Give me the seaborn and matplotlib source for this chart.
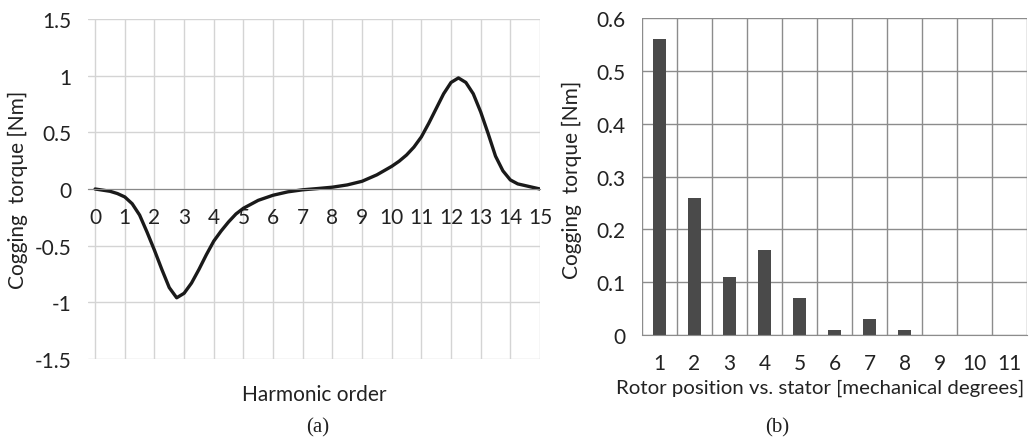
import numpy as np
import pandas as pd
import matplotlib
matplotlib.use("Agg")
import matplotlib.pyplot as plt
import seaborn as sns

# (a) cogging torque vs harmonic order
harmonic = [0, 0.5, 0.75, 1, 1.25, 1.5, 1.75, 2, 2.25, 2.5, 2.75, 3, 3.25, 3.5, 3.75,
            4, 4.25, 4.5, 4.75, 5, 5.5, 6, 6.5, 7, 7.5, 8, 8.5, 9, 9.5, 10, 10.25,
            10.5, 10.75, 11, 11.25, 11.5, 11.75, 12, 12.25, 12.5, 12.75, 13, 13.25,
            13.5, 13.75, 14, 14.25, 14.5, 14.75, 15]
torque = [0, -0.02, -0.04, -0.07, -0.13, -0.23, -0.38, -0.54, -0.71, -0.87, -0.96,
          -0.92, -0.83, -0.71, -0.58, -0.46, -0.37, -0.29, -0.22, -0.17, -0.10,
          -0.055, -0.025, -0.007, 0.004, 0.016, 0.036, 0.068, 0.125, 0.20, 0.245,
          0.30, 0.37, 0.46, 0.58, 0.71, 0.84, 0.94, 0.98, 0.94, 0.84, 0.68, 0.49,
          0.29, 0.16, 0.08, 0.045, 0.03, 0.015, 0]

# (b) cogging torque per rotor position
positions = ["1", "2", "3", "4", "5", "6", "7", "8", "9", "10", "11"]
bar_torque = [0.56, 0.26, 0.11, 0.16, 0.07, 0.01, 0.03, 0.01, 0, 0, 0]

sns.set_style("white")
plt.rcParams["font.family"] = ["Lato", "DejaVu Sans"]
FS = 15

fig = plt.figure(figsize=(10.30, 4.39), dpi=100)

# ---- left chart
ax1 = fig.add_axes([88 / 1030, 79 / 439, 452 / 1030, 340 / 439])
df_a = pd.DataFrame({"x": harmonic, "y": torque})
sns.lineplot(data=df_a, x="x", y="y", ax=ax1, color="#1a1a1a", linewidth=2.4)
ax1.set_xlim(-0.24, 15)
ax1.set_ylim(-1.5, 1.5)
ax1.set_xticks(range(16))
ax1.set_yticks(np.arange(-1.5, 1.51, 0.5))
ax1.set_yticklabels(["-1.5", "-1", "-0.5", "0", "0.5", "1", "1.5"])
ax1.grid(True, color="#d4d4d4", linewidth=1)
ax1.set_axisbelow(True)
for s in ["top", "right", "left"]:
    ax1.spines[s].set_visible(False)
ax1.spines["bottom"].set_position(("data", 0))
ax1.spines["bottom"].set_color("#888888")
ax1.tick_params(axis="x", direction="out", length=4, color="#888888", pad=9,
                labelsize=FS, labelcolor="#222222")
ax1.tick_params(axis="y", length=0, pad=12, labelsize=FS, labelcolor="#222222")
ax1.set_xlabel("")
ax1.set_ylabel("")
fig.text(314 / 1030, 1 - 395 / 439, "Harmonic order", ha="center", va="center",
         fontsize=FS, color="#222222")
fig.text(18 / 1030, 1 - 190 / 439, "Cogging  torque [Nm]", ha="center", va="center",
         rotation=90, fontsize=FS, color="#222222")

# ---- right chart
ax2 = fig.add_axes([642 / 1030, 103 / 439, 385 / 1030, 317 / 439])
df_b = pd.DataFrame({"pos": positions, "val": bar_torque})
sns.barplot(data=df_b, x="pos", y="val", ax=ax2, color="#4a4a4a", width=0.38,
            saturation=1, edgecolor="none")
ax2.set_xlim(-0.5, 10.5)
ax2.set_ylim(0, 0.6)
ax2.set_yticks(np.arange(0, 0.61, 0.1))
ax2.set_yticklabels(["0", "0.1", "0.2", "0.3", "0.4", "0.5", "0.6"])
ax2.set_xticks(np.arange(-0.5, 10.6, 1), minor=True)
ax2.grid(False)
ax2.grid(True, axis="y", which="major", color="#8c8c8c", linewidth=1)
ax2.grid(True, axis="x", which="minor", color="#8c8c8c", linewidth=1)
ax2.set_axisbelow(True)
for s in ["top", "right", "left"]:
    ax2.spines[s].set_visible(False)
ax2.spines["bottom"].set_color("#8c8c8c")
ax2.tick_params(axis="x", which="major", length=0, pad=13, labelsize=FS,
                labelcolor="#222222")
ax2.tick_params(axis="x", which="minor", direction="out", length=5, color="#8c8c8c")
ax2.tick_params(axis="y", direction="out", length=5, color="#8c8c8c", pad=7,
                labelsize=FS, labelcolor="#222222")
ax2.set_xlabel("")
ax2.set_ylabel("")
fig.text(820 / 1030, 1 - 388 / 439, "Rotor position vs. stator [mechanical degrees]",
         ha="center", va="center", fontsize=14.7, color="#222222")
fig.text(572 / 1030, 1 - 180 / 439, "Cogging  torque [Nm]", ha="center", va="center",
         rotation=90, fontsize=FS, color="#222222")

# panel captions
fig.text(318 / 1030, 1 - 428 / 439, "(a)", ha="center", va="center", fontsize=15,
         family=["Liberation Serif", "DejaVu Serif"], color="#222222")
fig.text(777 / 1030, 1 - 428 / 439, "(b)", ha="center", va="center", fontsize=15,
         family=["Liberation Serif", "DejaVu Serif"], color="#222222")

fig.savefig("out.png", dpi=100)
